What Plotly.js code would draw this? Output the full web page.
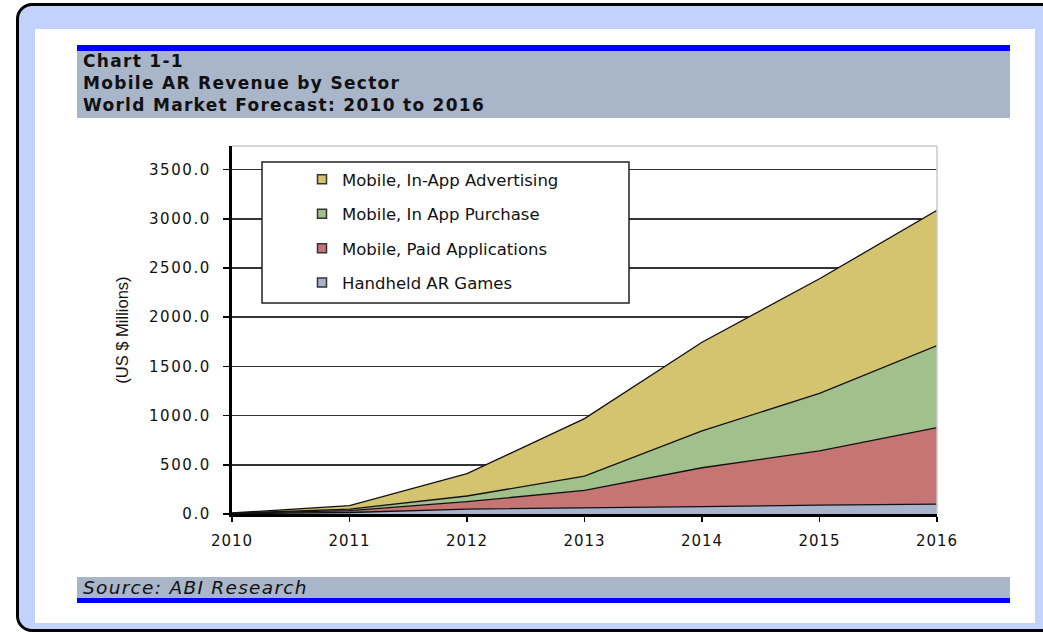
<!DOCTYPE html>
<html>
<head>
<meta charset="utf-8">
<script src="https://cdn.plot.ly/plotly-3.0.1.min.js"></script>
<style>
html,body{margin:0;padding:0;width:1043px;height:632px;overflow:hidden;background:#ffffff;}
#frame{position:absolute;left:16px;top:3px;width:1100px;height:623px;border:3px solid #000;border-radius:16px;background:#c3d1fd;}
#inner{position:absolute;left:35px;top:29px;width:1000px;height:594px;background:#ffffff;}
#chart{position:absolute;left:0;top:0;width:1043px;height:632px;}
#chart .ytick text{letter-spacing:1.6px;}
#chart .xtick text{letter-spacing:1px;}
#chart .annotation-text{letter-spacing:1.3px;}
</style>
</head>
<body>
<div id="frame"></div>
<div id="inner"></div>
<div id="chart"></div>
<script>
const years = [2010, 2011, 2012, 2013, 2014, 2015, 2016];
const handheldGames = [3, 15, 50, 60, 75, 90, 100];
const paidApplications = [2, 20, 75, 180, 395, 551, 778];
const inAppPurchase = [2, 15, 58, 145, 375, 584, 834];
const inAppAdvertising = [3, 35, 227, 585, 900, 1166, 1374];
const seriesNames = ["Handheld AR Games", "Mobile, Paid Applications", "Mobile, In App Purchase", "Mobile, In-App Advertising"];
const seriesColors = ["#a8b4cc", "#c47574", "#a2c08b", "#d4c46f"];
const seriesValues = [handheldGames, paidApplications, inAppPurchase, inAppAdvertising];
const yTicks = [0, 500, 1000, 1500, 2000, 2500, 3000, 3500];

const traces = [];
seriesValues.forEach((vals, i) => {
  traces.push({
    x: years, y: vals, type: 'scatter', mode: 'lines', stackgroup: 'one',
    name: seriesNames[i], fillcolor: seriesColors[i],
    line: {color: '#111111', width: 1.3}, showlegend: false, hoverinfo: 'x+y+name'
  });
});
// legend entries (top to bottom)
[3, 2, 1, 0].forEach(i => {
  traces.push({
    x: [null], y: [null], type: 'scatter', mode: 'markers', name: seriesNames[i],
    legendgroup: 'g' + i,
    marker: {symbol: 'square', size: 9, color: seriesColors[i], line: {color: '#333333', width: 1.5}}
  });
});

const X = px => (px - 232) / 705;
const Y = py => (514 - py) / 368;

const layout = {
  width: 1043, height: 632,
  margin: {l: 232, r: 106, t: 146, b: 118},
  paper_bgcolor: 'rgba(0,0,0,0)',
  plot_bgcolor: '#ffffff',
  font: {family: 'DejaVu Sans, sans-serif', color: '#111111'},
  xaxis: {
    range: [2010, 2016], tickvals: years, ticktext: years.map(String),
    showgrid: false, zeroline: false, showline: true, linecolor: '#000000', linewidth: 3,
    ticks: 'outside', ticklen: 5, tickwidth: 1.5, tickcolor: '#000000',
    tickfont: {family: 'DejaVu Sans, sans-serif', size: 15, color: '#111111'},
    ticklabelstandoff: 6
  },
  yaxis: {
    range: [0, 3740], tickvals: yTicks, tickformat: '.1f',
    showgrid: true, gridcolor: '#333333', gridwidth: 1.5,
    zeroline: false, showline: true, linecolor: '#000000', linewidth: 3,
    ticks: 'outside', ticklen: 6, tickwidth: 1.5, tickcolor: '#000000',
    tickfont: {family: 'DejaVu Sans, sans-serif', size: 15, color: '#111111'},
    ticklabelstandoff: 9,
    title: {text: '(US $ Millions)', font: {family: 'Liberation Sans, Arial, sans-serif', size: 16.5, color: '#111111'}, standoff: 26}
  },
  showlegend: true,
  legend: {
    x: X(302), y: Y(162), xanchor: 'left', yanchor: 'top',
    bgcolor: 'rgba(0,0,0,0)', borderwidth: 0,
    traceorder: 'grouped', tracegroupgap: 10,
    font: {family: 'DejaVu Sans, sans-serif', size: 16.5, color: '#111111'}
  },
  shapes: [
    {type: 'rect', xref: 'paper', yref: 'paper', x0: X(77), x1: X(1010), y0: Y(118), y1: Y(51), fillcolor: '#a9b5c8', line: {width: 0}, layer: 'below'},
    {type: 'rect', xref: 'paper', yref: 'paper', x0: X(77), x1: X(1010), y0: Y(51), y1: Y(45), fillcolor: '#0000ff', line: {width: 0}, layer: 'below'},
    {type: 'rect', xref: 'paper', yref: 'paper', x0: X(77), x1: X(1010), y0: Y(598), y1: Y(577), fillcolor: '#a9b5c8', line: {width: 0}, layer: 'below'},
    {type: 'rect', xref: 'paper', yref: 'paper', x0: X(77), x1: X(1010), y0: Y(603), y1: Y(598), fillcolor: '#0000ff', line: {width: 0}, layer: 'below'},
    {type: 'line', xref: 'paper', yref: 'paper', x0: 0, x1: 1, y0: 1, y1: 1, line: {color: '#c8c8c8', width: 1.5}},
    {type: 'line', xref: 'paper', yref: 'paper', x0: 1, x1: 1, y0: 0, y1: 1, line: {color: '#c8c8c8', width: 1.5}},
    {type: 'rect', xref: 'paper', yref: 'paper', x0: X(262), x1: X(629), y0: Y(303), y1: Y(162), fillcolor: '#ffffff', line: {color: '#222222', width: 1.5}, layer: 'above'}
  ],
  annotations: [
    {xref: 'paper', yref: 'paper', x: X(81), y: Y(61), xanchor: 'left', yanchor: 'middle', align: 'left', showarrow: false, text: '<b>Chart 1-1</b>', font: {family: 'DejaVu Sans, sans-serif', size: 17, color: '#111111'}},
    {xref: 'paper', yref: 'paper', x: X(81), y: Y(83), xanchor: 'left', yanchor: 'middle', align: 'left', showarrow: false, text: '<b>Mobile AR Revenue by Sector</b>', font: {family: 'DejaVu Sans, sans-serif', size: 17, color: '#111111'}},
    {xref: 'paper', yref: 'paper', x: X(81), y: Y(105), xanchor: 'left', yanchor: 'middle', align: 'left', showarrow: false, text: '<b>World Market Forecast: 2010 to 2016</b>', font: {family: 'DejaVu Sans, sans-serif', size: 17, color: '#111111'}},
    {xref: 'paper', yref: 'paper', x: X(81), y: Y(587), xanchor: 'left', yanchor: 'middle', align: 'left', showarrow: false, text: '<i>Source: ABI Research</i>', font: {family: 'DejaVu Sans, sans-serif', size: 18.5, color: '#111111'}}
  ]
};

Plotly.newPlot('chart', traces, layout, {displayModeBar: false, staticPlot: true});
</script>
</body>
</html>
